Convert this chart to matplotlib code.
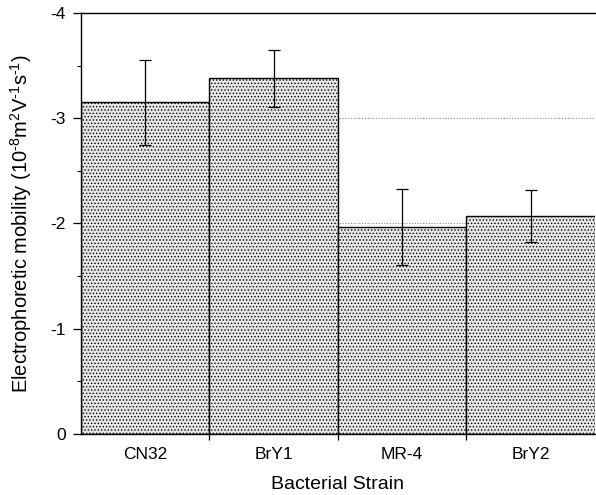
import matplotlib
matplotlib.use("Agg")
import matplotlib.pyplot as plt
from matplotlib.ticker import MultipleLocator, FixedLocator

plt.rcParams['font.family'] = ['Liberation Sans', 'DejaVu Sans']
plt.rcParams['hatch.color'] = '#a0a0a0'
plt.rcParams['hatch.linewidth'] = 0.6
plt.rcParams['mathtext.fontset'] = 'custom'
plt.rcParams['mathtext.rm'] = 'Liberation Sans'
plt.rcParams['mathtext.it'] = 'Liberation Sans'

strains = ["CN32", "BrY1", "MR-4", "BrY2"]
mobility = [-3.15, -3.38, -1.97, -2.07]
errors = [0.40, 0.27, 0.36, 0.25]
yticks = [0, -1, -2, -3, -4]

fig = plt.figure(figsize=(5.96, 4.95), dpi=100)
ax = fig.add_axes([0.136, 0.123, 0.862, 0.851])

x = list(range(len(strains)))
ax.yaxis.grid(True, which='major', linestyle=(0, (1, 1.5)), color='#888888', linewidth=0.8, zorder=0)
ax.set_axisbelow(True)
ax.bar(x, mobility, width=1.0, color='#e6e6e6', edgecolor='black', linewidth=1.0,
       hatch='.....', zorder=2)
ax.errorbar(x, mobility, yerr=errors, fmt='none', ecolor='black', elinewidth=0.9,
            capsize=4, capthick=0.9, zorder=3)

ax.set_xlim(-0.5, 3.5)
ax.set_ylim(0, -4)
ax.set_xticks(x)
ax.set_xticklabels(strains)
ax.xaxis.set_minor_locator(FixedLocator([0.5, 1.5, 2.5]))
ax.tick_params(axis='x', which='major', length=0, labelsize=12.5, pad=9)
ax.tick_params(axis='x', which='minor', length=4, direction='out', width=0.9)
ax.set_yticks(yticks)
ax.set_yticklabels([str(v) for v in yticks])
ax.yaxis.set_minor_locator(MultipleLocator(0.5))
ax.tick_params(axis='y', which='major', length=6, direction='out', labelsize=12.5, width=0.9, pad=5)
ax.tick_params(axis='y', which='minor', length=3, direction='out', width=0.8)

for s in ['left', 'bottom', 'top']:
    ax.spines[s].set_linewidth(1.0)
ax.spines['right'].set_visible(False)

ax.set_xlabel("Bacterial Strain", fontsize=14, labelpad=10)
ax.set_ylabel("Electrophoretic mobility (10$^{\\text{-}8}$m$^2$V$^{\\text{-}1}$s$^{\\text{-}1}$)",
              fontsize=14.5, labelpad=12)

fig.savefig("out.png", dpi=100)
